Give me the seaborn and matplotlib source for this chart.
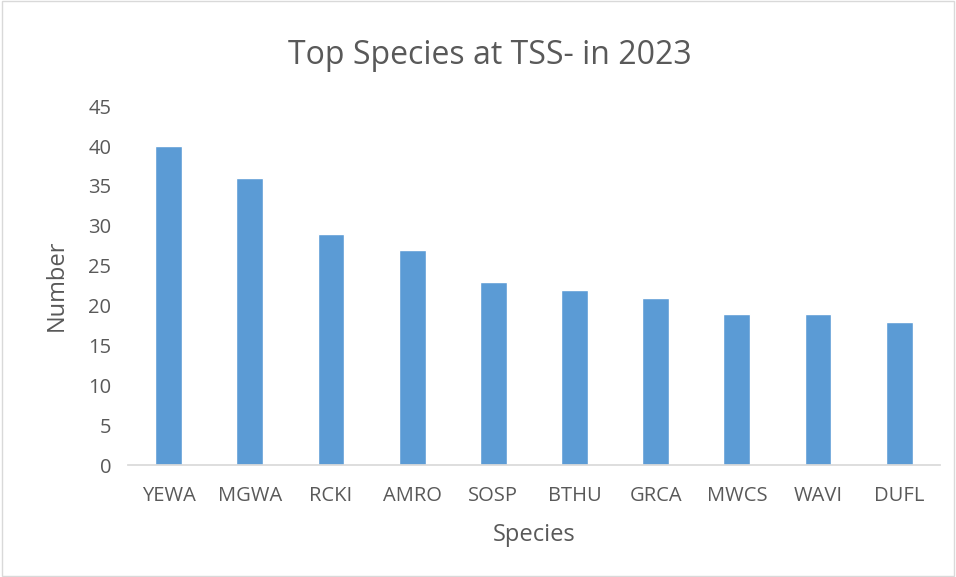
import matplotlib
matplotlib.use("Agg")
import matplotlib.pyplot as plt
import seaborn as sns
import pandas as pd
from matplotlib.patches import Rectangle

species = ["YEWA", "MGWA", "RCKI", "AMRO", "SOSP", "BTHU", "GRCA", "MWCS", "WAVI", "DUFL"]
counts = [40, 36, 29, 27, 23, 22, 21, 19, 19, 18]
yticks = [0, 5, 10, 15, 20, 25, 30, 35, 40, 45]

df = pd.DataFrame({"Species": species, "Number": counts})

sns.set_theme(style="white")
plt.rcParams["font.family"] = ["Open Sans", "DejaVu Sans"]
txt = "#595959"

fig = plt.figure(figsize=(9.56, 5.77), dpi=100)
ax = fig.add_axes([0.134, 0.194, 0.849, 0.622])
sns.barplot(data=df, x="Species", y="Number", color="#5B9BD5", width=0.33,
            saturation=1, ax=ax)
ax.set_ylim(0, 45)
ax.set_yticks(yticks)
ax.set_yticklabels([str(v) for v in yticks], fontsize=14.5, color=txt)
ax.tick_params(axis="x", labelsize=14.5, colors=txt, length=0, pad=15)
ax.tick_params(axis="y", length=0, pad=12)
for s in ["top", "right", "left"]:
    ax.spines[s].set_visible(False)
ax.spines["bottom"].set_color("#D9D9D9")
ax.set_xlabel("Species", fontsize=17, color=txt, labelpad=12)
ax.set_ylabel("Number", fontsize=17, color=txt, labelpad=14)
fig.text(0.512, 0.903, "Top Species at TSS- in 2023", ha="center", va="center",
         fontsize=23, color=txt)
fig.patches.append(Rectangle((0.002, 0.002), 0.996, 0.996, transform=fig.transFigure,
                             fill=False, edgecolor="#D9D9D9", linewidth=1))
fig.savefig("out.png", dpi=100)
